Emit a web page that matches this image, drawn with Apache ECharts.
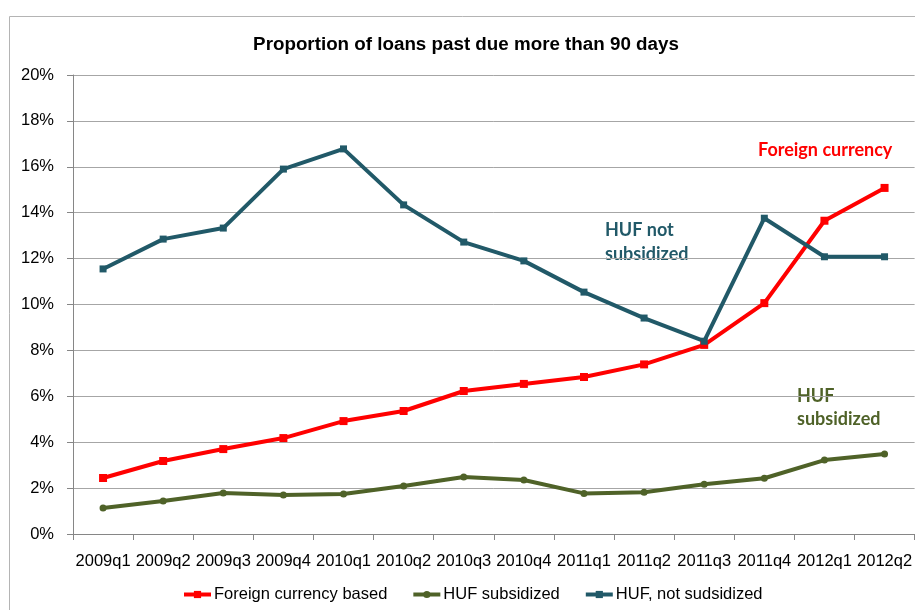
<!DOCTYPE html>
<html>
<head>
<meta charset="utf-8">
<title>Proportion of loans past due more than 90 days</title>
<script src="https://cdn.jsdelivr.net/npm/echarts@6/dist/echarts.min.js"></script>
<style>
  html, body { margin: 0; padding: 0; background: #ffffff; }
  #chart { width: 915px; height: 610px; }
</style>
</head>
<body>
<div id="chart"></div>
<script>
// Quarters on the horizontal axis
var quarters = ['2009q1', '2009q2', '2009q3', '2009q4', '2010q1', '2010q2', '2010q3',
                '2010q4', '2011q1', '2011q2', '2011q3', '2011q4', '2012q1', '2012q2'];

// Share of loans more than 90 days past due, in percent
var foreignCurrency = [2.44, 3.18, 3.70, 4.18, 4.92, 5.36, 6.23, 6.54, 6.84, 7.39, 8.24, 10.06, 13.65, 15.08];
var hufSubsidized   = [1.13, 1.44, 1.79, 1.70, 1.74, 2.09, 2.48, 2.35, 1.77, 1.82, 2.17, 2.43, 3.22, 3.49];
var hufNotSubsidized = [11.55, 12.85, 13.33, 15.90, 16.78, 14.34, 12.72, 11.90, 10.54, 9.41, 8.40, 13.76, 12.08, 12.08];

// Value axis ticks
var yMin = 0, yMax = 20, yStep = 2;

var sans = '"Liberation Sans", Arial, sans-serif';
var noteFont = 'Lato, "Open Sans", "Noto Sans", sans-serif';

var RED = '#ff0000', OLIVE = '#4f6228', TEAL = '#215968';

var chart = echarts.init(document.getElementById('chart'), null, { renderer: 'canvas' });

function lineSeries(name, data, color, symbol, size) {
  return {
    name: name,
    type: 'line',
    data: data,
    symbol: symbol,
    symbolSize: size,
    showAllSymbol: true,
    lineStyle: { color: color, width: 4 },
    itemStyle: { color: color },
    emphasis: { disabled: true },
    z: 3
  };
}

chart.setOption({
  animation: false,
  backgroundColor: '#ffffff',
  title: {
    text: 'Proportion of loans past due more than 90 days',
    left: 461,
    textAlign: 'center',
    top: 30,
    textStyle: { fontFamily: sans, fontSize: 18.8, fontWeight: 'bold', color: '#000000' }
  },
  grid: { left: 73, top: 75, width: 844, bottom: 76, containLabel: false },
  legend: {
    left: 182,
    top: 586,
    padding: 0,
    itemWidth: 27,
    itemHeight: 9,
    itemGap: 24,
    selectedMode: false,
    lineStyle: { width: 4 },
    textStyle: { fontFamily: sans, fontSize: 16.5, color: '#000000', padding: [0, 0, 0, -2] },
    data: ['Foreign currency based', 'HUF subsidized', 'HUF, not sudsidized']
  },
  xAxis: {
    type: 'category',
    data: quarters,
    boundaryGap: true,
    axisLine: { lineStyle: { color: '#868686', width: 1 } },
    axisTick: { show: true, length: 6, alignWithLabel: false, lineStyle: { color: '#868686' } },
    axisLabel: { fontFamily: sans, fontSize: 16.5, color: '#000000', margin: 19, interval: 0 },
    splitLine: { show: false }
  },
  yAxis: {
    type: 'value',
    min: yMin,
    max: yMax,
    interval: yStep,
    axisLine: { show: true, lineStyle: { color: '#868686', width: 1 } },
    axisTick: { show: true, length: 6, lineStyle: { color: '#868686' } },
    axisLabel: {
      fontFamily: sans, fontSize: 16.5, color: '#000000', margin: 19,
      formatter: function (v) { return v + '%'; }
    },
    splitLine: { show: true, lineStyle: { color: '#a6a6a6', width: 1 } }
  },
  series: [
    lineSeries('Foreign currency based', foreignCurrency, RED, 'rect', 8),
    lineSeries('HUF subsidized', hufSubsidized, OLIVE, 'circle', 7),
    lineSeries('HUF, not sudsidized', hufNotSubsidized, TEAL, 'rect', 7)
  ],
  graphic: [
    {
      type: 'rect',
      shape: { x: 9.5, y: 16.5, width: 1000, height: 1000 },
      style: { fill: 'none', stroke: '#b4b4b4', lineWidth: 1 },
      silent: true,
      z: -1
    },
    {
      type: 'text', left: 758, top: 141,
      style: { text: 'Foreign currency', fill: RED, font: 'bold 18px ' + noteFont }
    },
    {
      type: 'text', left: 605, top: 218,
      style: { text: 'HUF not\nsubsidized', fill: TEAL, font: 'bold 18px ' + noteFont, lineHeight: 24 }
    },
    {
      type: 'text', left: 797, top: 385,
      style: { text: 'HUF\nsubsidized', fill: OLIVE, font: 'bold 18px ' + noteFont, lineHeight: 23 }
    }
  ]
});
</script>
</body>
</html>
